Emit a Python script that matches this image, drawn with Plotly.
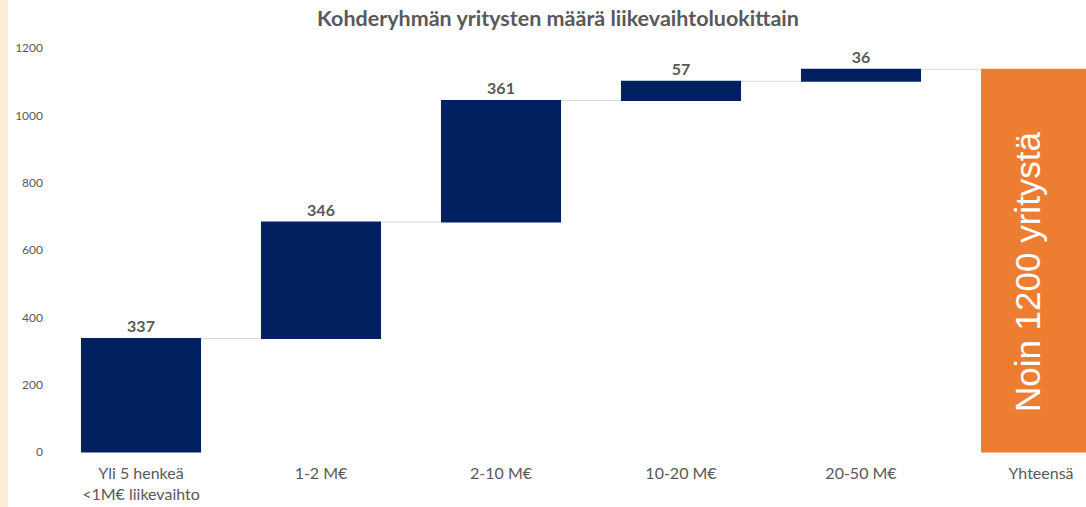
import plotly.graph_objects as go

categories = ["Yli 5 henkeä<br><1M€ liikevaihto", "1-2 M€", "2-10 M€", "10-20 M€", "20-50 M€", "Yhteensä"]
values = [337, 346, 361, 57, 36]
total_label = "Noin 1200 yritystä"
y_ticks = [0, 200, 400, 600, 800, 1000, 1200]

total = sum(values)
measures = ["relative"] * len(values) + ["total"]
y_vals = values + [total]
texts = [str(v) for v in values] + [""]

NAVY = "#002060"
ORANGE = "#ED7D31"
GRAY = "#595959"

fig = go.Figure()
fig.add_trace(go.Waterfall(
    x=categories,
    y=y_vals,
    measure=measures,
    text=texts,
    textposition="outside",
    textfont=dict(family="Lato", size=16, color=GRAY, weight="bold"),
    increasing=dict(marker=dict(color=NAVY, line=dict(width=0))),
    totals=dict(marker=dict(color=ORANGE, line=dict(width=0))),
    connector=dict(mode="between", line=dict(color="#D9D9D9", width=1)),
    width=0.667,
    cliponaxis=False,
    showlegend=False,
    hoverinfo="skip",
))

fig.add_annotation(
    x=categories[-1], y=total * 0.47, xshift=-14,
    text=total_label, textangle=-90, showarrow=False,
    font=dict(family="Liberation Sans", size=35, color="white"),
)

# decorative peach strip at the left edge
fig.add_shape(type="rect", xref="paper", yref="paper",
              x0=-60/1026, x1=-52/1026, y0=-1, y1=2,
              fillcolor="#FDEBD6", line=dict(width=0), layer="below")

fig.update_layout(
    width=1086, height=507,
    margin=dict(l=60, r=0, t=40, b=47),
    paper_bgcolor="white", plot_bgcolor="white",
    title=dict(text="Kohderyhmän yritysten määrä liikevaihtoluokittain",
               x=558/1086, xanchor="center", y=1 - 18/507, yanchor="middle",
               font=dict(family="Lato", size=21.5, color=GRAY, weight="bold")),
    xaxis=dict(range=[-0.45, 5.25], showgrid=False, showline=False, zeroline=False,
               tickfont=dict(family="Lato", size=16, color=GRAY), ticks="",
               ticklabelstandoff=2),
    yaxis=dict(range=[-23.8, 1223.8], tickvals=y_ticks, showgrid=False, showline=False,
               zeroline=False, tickfont=dict(family="Lato", size=12, color=GRAY),
               ticks="", ticklabelstandoff=16),
    font=dict(family="Lato", color=GRAY),
)

fig.write_html("out.html", config={"displayModeBar": False},
               post_script="document.body.style.margin='0';")
